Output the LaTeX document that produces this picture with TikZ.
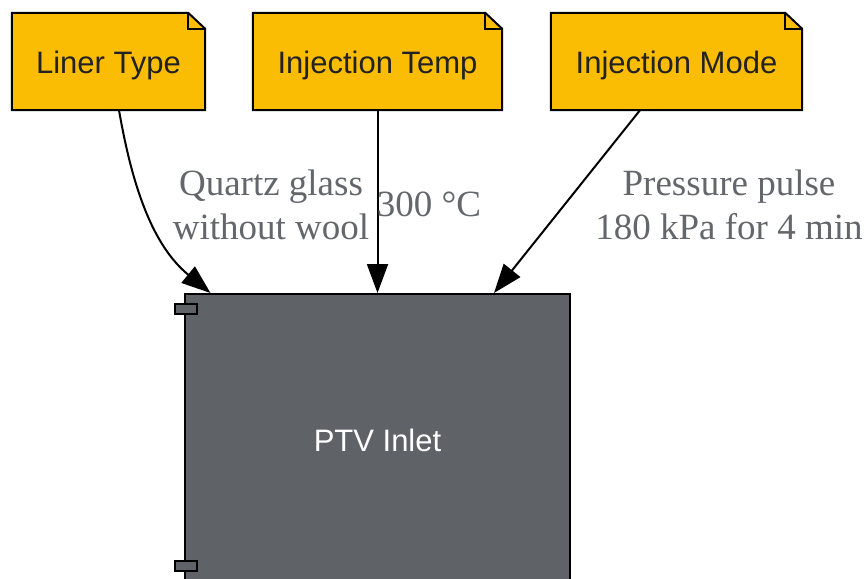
\documentclass[tikz,border=0pt]{standalone}
\usepackage{fontspec}
\setmainfont{Liberation Serif}
\newfontfamily\nodefont{Liberation Sans}
\usetikzlibrary{arrows.meta,backgrounds}
\definecolor{noteyellow}{HTML}{FBBC04}
\definecolor{boxgray}{HTML}{5F6368}
\definecolor{labgray}{HTML}{63666A}
\definecolor{notetext}{HTML}{222222}
\newcommand\notetxt[1]{\raisebox{-12.5pt}[0pt][0pt]{#1}}
\tikzset{
  notebox/.style={minimum height=97pt,inner sep=0pt,font=\nodefont\fontsize{31}{37}\selectfont,text=notetext},
  notebord/.style={draw=black,line width=2pt,fill=noteyellow,line join=miter},
  mainbox/.style={draw=black,line width=2pt,fill=boxgray,minimum width=385pt,minimum height=292pt,inner sep=0pt,font=\nodefont\fontsize{31}{37}\selectfont,text=white},
  port/.style={draw=black,line width=1.6pt,fill=boxgray,minimum width=22pt,minimum height=10pt,inner sep=0pt},
  conn/.style={line width=2pt,-{Triangle[length=29pt,width=21pt]}},
  elabel/.style={font=\fontsize{37}{44}\selectfont,text=labgray,align=center,inner sep=0pt}
}
\newcommand\notefold[1]{%
  \draw[notebord] (#1.south west) -- (#1.north west) -- ([xshift=-17pt]#1.north east) -- ([yshift=-16pt]#1.north east) -- (#1.south east) -- cycle;
  \draw[line width=2pt] ([xshift=-17pt]#1.north east) |- ([yshift=-16pt]#1.north east);}
\begin{document}
\begin{tikzpicture}[x=1pt,y=-1pt]
\useasboundingbox (0,0) rectangle (866,578);
\clip (0,0) rectangle (866,578);
\node[notebox,minimum width=193pt] (liner) at (108.5,61.5) {\notetxt{Liner Type}};
\node[notebox,minimum width=249pt] (temp) at (377.5,61.5) {\notetxt{Injection Temp}};
\node[notebox,minimum width=251pt] (mode) at (676.5,61.5) {\notetxt{Injection Mode}};
\begin{scope}[on background layer]
\notefold{liner}
\notefold{temp}
\notefold{mode}
\end{scope}
\node[mainbox] (ptv) at (377.5,440) {PTV Inlet};
\node[port] (p1) at (186,309) {};
\node[port] (p2) at (186,566) {};
\draw[conn] ([xshift=10.5pt]liner.south) .. controls (132,185) and (152,245) .. ([xshift=-167pt]ptv.north);
\draw[conn] (temp.south) -- (ptv.north);
\draw[conn] ([xshift=-36.5pt]mode.south) -- ([xshift=116.5pt]ptv.north);
\node[elabel] (l1) at (271,205) {Quartz glass\\without wool};
\node[elabel] (l2) at (429,204) {300 °C};
\node[elabel] (l3) at (729,205) {Pressure pulse\\180 kPa for 4 min};
\end{tikzpicture}
\end{document}
